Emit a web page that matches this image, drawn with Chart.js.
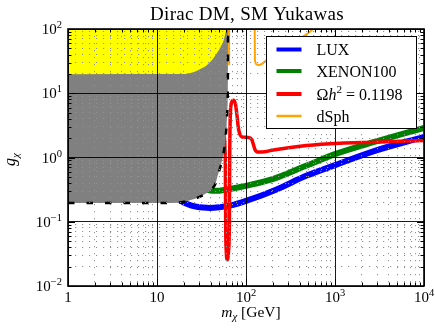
<!DOCTYPE html>
<html>
<head>
<meta charset="utf-8">
<script src="https://cdn.jsdelivr.net/npm/chart.js@4"></script>
<style>
  html, body { margin: 0; padding: 0; background: #fff; }
  canvas { display: block; }
</style>
</head>
<body>
<canvas id="chart" width="435" height="330"></canvas>
<script>
// values: mass in GeV, coupling g_chi
const luxMass = [15, 19.8, 24, 28, 33, 39.4, 50, 66, 102, 217, 481, 1018, 2694, 10000];
const luxG    = [0.26, 0.2, 0.18, 0.171, 0.166, 0.164, 0.168, 0.178, 0.213, 0.316, 0.523, 0.769, 1.25, 2.1];

const xenonMass = [30, 36, 41.2, 50, 66, 102, 203, 481, 1018, 2694, 10000];
const xenonG    = [0.38, 0.32, 0.305, 0.305, 0.324, 0.365, 0.465, 0.75, 1.14, 1.73, 2.9];

const relicMass = [45, 55, 58.5, 59.2, 60, 61.6, 63.6, 65.1, 65.6, 66.4, 67.8, 72, 76.2, 79.2, 81.9, 85.6, 90.2, 105, 116, 121, 126, 135, 151, 203, 481, 1137, 2692, 10000];
const relicG    = [20, 3, 1.0, 0.072, 0.035, 0.0256, 0.035, 0.104, 1.0, 3.79, 6.5, 7.77, 6.73, 4.53, 2.94, 2.29, 2.09, 2.05, 1.91, 1.6, 1.33, 1.22, 1.22, 1.31, 1.54, 1.67, 1.73, 1.84];

const dsphMass = [64.3, 64.6, 100, 125, 126, 132, 141, 171, 262, 404, 524, 600];
const dsphG    = [150, 27.4, null, 150, 32.8, 28, 27.4, 32.8, 49.9, 71.6, 90.7, 110];

// Higgs invisible width bound (grey, dashed edge)
const hinvMass = [1, 15, 20, 25, 30, 34.6, 41.2, 45, 48, 51, 54, 56, 58, 59.5, 60.7, 61.7, 62.3, 62.6, 62.8];
const hinvG    = [0.195, 0.196, 0.205, 0.222, 0.243, 0.27, 0.324, 0.38, 0.52, 0.68, 0.92, 1.2, 1.6, 2.3, 3.4, 5.5, 8, 20, 100];

// yellow region on top
const pertMass = [1, 20, 25, 30, 36, 42, 47, 52, 56, 58, 59.5, 60.7, 61.2];
const pertG    = [19.8, 19.9, 21, 23.5, 27, 33.5, 42, 53, 66, 80, 92, 105, 130];

const xTickValues = [1, 10, 100, 1000, 10000];
const xTickLabels = [['1', ''], ['10', ''], ['10', '2'], ['10', '3'], ['10', '4']];
const yTickValues = [0.01, 0.1, 1, 10, 100];
const yTickLabels = [['10', '\u22122'], ['10', '\u22121'], ['10', '0'], ['10', '1'], ['10', '2']];

const titleText = 'Dirac DM, SM Yukawas';
const legendItems = [
    { color: '#0000ff', width: 4, parts: [{ t: 'LUX' }] },
    { color: '#008000', width: 4, parts: [{ t: 'XENON100' }] },
    { color: '#ff0000', width: 4, parts: [{ t: '\u03A9' }, { t: 'h', it: true }, { t: '2', sup: true }, { t: ' = 0.1198' }] },
    { color: '#ffa500', width: 2.5, parts: [{ t: 'dSph' }] }
];

const SERIF = '"Liberation Serif", "Times New Roman", serif';
const pts = (xs, ys) => xs.map((x, i) => ({ x, y: ys[i] }));
const isMajor = v => Math.abs(Math.log10(v) - Math.round(Math.log10(v))) < 1e-9;

function logTicks(scale) {
    const out = [];
    const lo = Math.round(Math.log10(scale.min)), hi = Math.round(Math.log10(scale.max));
    for (let e = lo; e < hi; e++)
        for (let k = 1; k < 10; k++) out.push({ value: k * Math.pow(10, e) });
    out.push({ value: scale.max });
    scale.ticks = out;
}

function partFont(p, size) {
    const s = (p.sup || p.sub) ? size * 0.7 : size;
    return (p.it ? 'italic ' : '') + s + 'px ' + SERIF;
}
function richWidth(ctx, parts, size) {
    return parts.reduce((w, p) => { ctx.font = partFont(p, size); return w + ctx.measureText(p.t).width; }, 0);
}
function drawRich(ctx, parts, x, y, size) {
    parts.forEach(p => {
        ctx.font = partFont(p, size);
        const dy = p.sup ? -0.4 * size : p.sub ? 0.22 * size : 0;
        ctx.fillText(p.t, x, y + dy);
        x += ctx.measureText(p.t).width;
    });
}

const gridOpts = {
    z: 1,
    drawTicks: false,
    color: c => (c.tick && isMajor(c.tick.value)) ? '#000' : '#929292',
    lineWidth: c => (c.tick && isMajor(c.tick.value)) ? 0.9 : 1
};
const borderOpts = {
    display: false,
    dash: c => (c.tick && !isMajor(c.tick.value)) ? [1.2, 5.8] : []
};

// frame, inward ticks, labels, title and legend
const decor = {
    id: 'decor',
    afterDraw(chart) {
        const { ctx, chartArea: a, scales: { x, y } } = chart;
        ctx.save();
        ctx.fillStyle = '#000';
        ctx.strokeStyle = '#000';

        ctx.lineWidth = 1;
        ctx.beginPath();
        x.ticks.forEach(t => {
            const px = Math.round(x.getPixelForValue(t.value)) + 0.5;
            const len = isMajor(t.value) ? 7 : 3.5;
            ctx.moveTo(px, a.bottom); ctx.lineTo(px, a.bottom - len);
            ctx.moveTo(px, a.top); ctx.lineTo(px, a.top + len);
        });
        y.ticks.forEach(t => {
            const py = Math.round(y.getPixelForValue(t.value)) + 0.5;
            const len = isMajor(t.value) ? 7 : 3.5;
            ctx.moveTo(a.left, py); ctx.lineTo(a.left + len, py);
            ctx.moveTo(a.right, py); ctx.lineTo(a.right - len, py);
        });
        ctx.stroke();

        ctx.lineWidth = 1.6;
        ctx.strokeRect(a.left, a.top, a.right - a.left, a.bottom - a.top);

        // tick labels
        const TS = 15;
        ctx.textBaseline = 'alphabetic';
        ctx.textAlign = 'left';
        xTickValues.forEach((v, i) => {
            const parts = [{ t: xTickLabels[i][0] }, { t: xTickLabels[i][1], sup: true }];
            const w = richWidth(ctx, parts, TS);
            drawRich(ctx, parts, x.getPixelForValue(v) - w / 2, a.bottom + 15.5, TS);
        });
        yTickValues.forEach((v, i) => {
            const parts = [{ t: yTickLabels[i][0] }, { t: yTickLabels[i][1], sup: true }];
            const w = richWidth(ctx, parts, TS);
            drawRich(ctx, parts, a.left - 6 - w, y.getPixelForValue(v) + 5, TS);
        });

        // axis titles
        const xl = [{ t: 'm', it: true }, { t: '\u03C7', it: true, sub: true }, { t: ' [GeV]' }];
        drawRich(ctx, xl, 251 - richWidth(ctx, xl, 15.5) / 2, a.bottom + 31, 15.5);

        const yl = [{ t: 'g', it: true }, { t: '\u03C7', it: true, sub: true }];
        ctx.save();
        ctx.translate(15, (a.top + a.bottom) / 2 + 2);
        ctx.rotate(-Math.PI / 2);
        drawRich(ctx, yl, -richWidth(ctx, yl, 16) / 2, 0, 16);
        ctx.restore();

        // title
        ctx.font = '19px ' + SERIF;
        ctx.letterSpacing = '0.3px';
        ctx.textAlign = 'center';
        ctx.fillText(titleText, (a.left + a.right) / 2 + 1, 20);
        ctx.letterSpacing = '0px';
        ctx.textAlign = 'left';

        // legend
        const bx = 266.5, by = 36.5, bw = 150, bh = 92;
        ctx.fillStyle = '#fff';
        ctx.fillRect(bx, by, bw, bh);
        ctx.lineWidth = 1;
        ctx.strokeRect(bx, by, bw, bh);
        const rows = [49.5, 71, 94, 116];
        legendItems.forEach((it, i) => {
            ctx.strokeStyle = it.color;
            ctx.lineWidth = it.width;
            ctx.beginPath();
            ctx.moveTo(bx + 10, rows[i]);
            ctx.lineTo(bx + 35, rows[i]);
            ctx.stroke();
            ctx.fillStyle = '#000';
            drawRich(ctx, it.parts, bx + 50, rows[i] + 5.5, 16);
        });
        ctx.restore();
    }
};

new Chart(document.getElementById('chart'), {
    type: 'line',
    data: {
        datasets: [
            { label: 'LUX', data: pts(luxMass, luxG), borderColor: '#0000ff', borderWidth: 6, order: 10 },
            { label: 'XENON100', data: pts(xenonMass, xenonG), borderColor: '#008000', borderWidth: 6, order: 9 },
            { label: 'Ωh² = 0.1198', data: pts(relicMass, relicG), borderColor: '#ff0000', borderWidth: 3.5, order: 8 },
            { label: 'dSph', data: pts(dsphMass, dsphG), borderColor: '#ffa500', borderWidth: 2, order: 7, spanGaps: false },
            { label: 'h invisible', data: pts(hinvMass, hinvG), borderColor: 'rgba(0,0,0,0)', borderWidth: 0, backgroundColor: '#808080', fill: 'end', order: 6 },
            { label: 'upper', data: pts(pertMass, pertG), borderColor: 'rgba(0,0,0,0)', borderWidth: 0, backgroundColor: '#ffff00', fill: 'end', order: 5 },
            { label: 'h invisible edge', data: pts(hinvMass, hinvG), borderColor: '#000', borderWidth: 2.5, borderDash: [6.5, 12], order: 4 }
        ]
    },
    options: {
        responsive: false,
        animation: false,
        events: [],
        layout: { padding: { left: 68, right: 11, top: 29, bottom: 44 } },
        elements: {
            point: { radius: 0 },
            line: { cubicInterpolationMode: 'monotone', fill: false }
        },
        scales: {
            x: {
                type: 'logarithmic', min: 1, max: 10000,
                afterBuildTicks: logTicks,
                ticks: { display: false },
                grid: gridOpts, border: borderOpts
            },
            y: {
                type: 'logarithmic', min: 0.01, max: 100,
                afterBuildTicks: logTicks,
                ticks: { display: false },
                grid: gridOpts, border: borderOpts
            }
        },
        plugins: {
            legend: { display: false },
            tooltip: { enabled: false },
            title: { display: false }
        }
    },
    plugins: [decor]
});
</script>
</body>
</html>
